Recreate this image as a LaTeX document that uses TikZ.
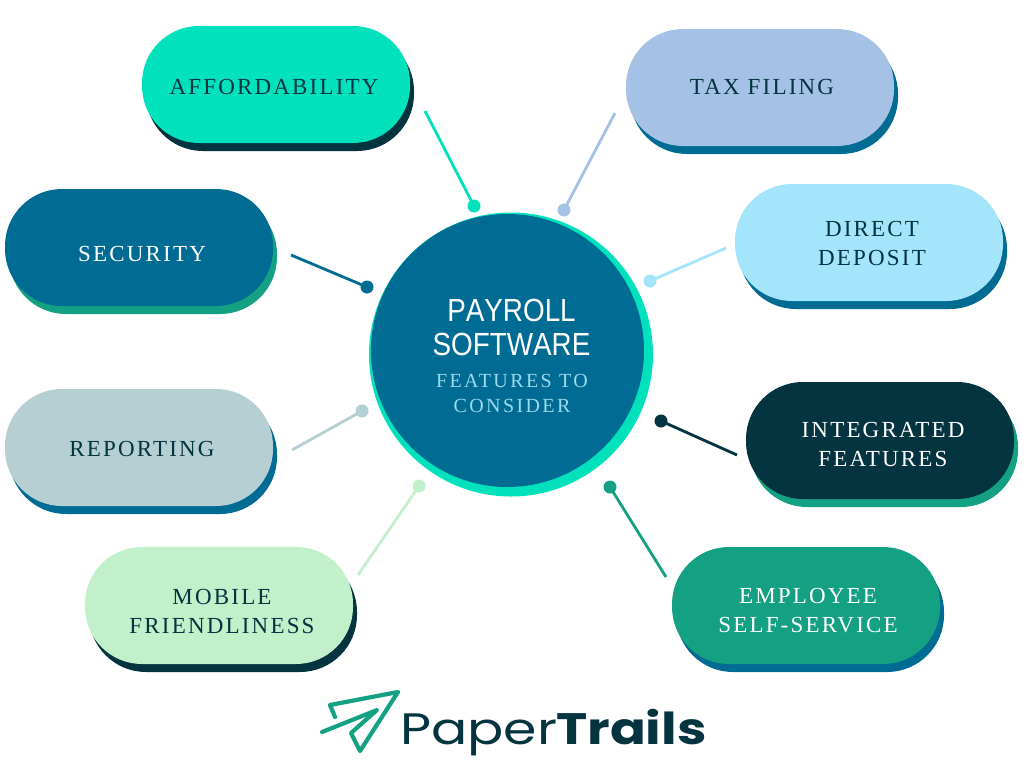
\documentclass[tikz,border=0pt]{standalone}
\usepackage{fontspec}
\setmainfont{Liberation Serif}
\newfontfamily\pillfont[LetterSpace=9.5]{Liberation Serif}
\newfontfamily\subfont[LetterSpace=12]{Liberation Serif}
\newfontfamily\titlefont[FakeStretch=0.87,Kerning=Off]{Liberation Sans}
\newfontfamily\logofont[FakeStretch=1.22]{Poppins}
\newfontfamily\logoboldfont[FakeStretch=1.2]{Poppins}
\definecolor{cAccent}{HTML}{00E1BC}
\definecolor{cNavy}{HTML}{006C93}
\definecolor{cDark}{HTML}{03343F}
\definecolor{cTax}{HTML}{A5C1E5}
\definecolor{cDirect}{HTML}{A5E5FB}
\definecolor{cReport}{HTML}{B6CFD3}
\definecolor{cMobile}{HTML}{C1F0CB}
\definecolor{cEmployee}{HTML}{14A082}
\definecolor{cSub}{HTML}{9AD9EE}
\tikzset{
  pillbox/.style={inner sep=0pt,outer sep=0pt,minimum width=268pt,minimum height=117pt,rounded corners=57pt},
  pilltext/.style={inner sep=0pt,align=center,font=\pillfont\fontsize{23}{29}\selectfont},
  link/.style={line width=2.8pt},
  dot/.style={circle,inner sep=0pt,outer sep=0pt,minimum size=13pt},
  titletext/.style={inner sep=0pt,anchor=base,font=\titlefont\fontsize{32}{34}\selectfont,text=white},
  subtext/.style={inner sep=0pt,anchor=base,font=\subfont\fontsize{20}{25}\selectfont,text=cSub},
  logotext/.style={inner sep=0pt,anchor=base west,text=cDark},
}
% name, centre x, centre y, fill, shadow, text colour, text x, text y, text
\newcommand{\pillitem}[9]{%
  \node[pillbox,fill=#5] (#1s) at (#2+4,#3+8) {};
  \node[pillbox,fill=#4] (#1) at (#2,#3) {};
  \node[pilltext,text=#6] (#1t) at (#7,#8) {#9};
}
% name, start x, y, dot x, y, colour
\newcommand{\linkitem}[6]{%
  \coordinate (#1a) at (#2,#3);
  \node[dot,fill=#6] (#1d) at (#4,#5) {};
  \draw[link,draw=#6] (#1a) -- (#1d.center);
}
\begin{document}
\begin{tikzpicture}[x=1pt,y=-1pt]
\useasboundingbox (0,0) rectangle (1024,768);
\fill[white] (0,0) rectangle (1024,768);
\pillitem{afford}{276}{84.5}{cAccent}{cDark}{cDark}{274}{87}{AFFORDABILITY}
\pillitem{tax}{760}{87.5}{cTax}{cNavy}{cDark}{762}{87}{TAX FILING}
\pillitem{sec}{139}{247.5}{cNavy}{cEmployee}{white}{142}{254}{SECURITY}
\pillitem{direct}{869}{242.5}{cDirect}{cNavy}{cDark}{872}{243}{DIRECT\\DEPOSIT}
\pillitem{report}{139}{447.5}{cReport}{cNavy}{cDark}{142}{449}{REPORTING}
\pillitem{integ}{880}{440.5}{cDark}{cEmployee}{white}{883}{444}{INTEGRATED\\FEATURES}
\pillitem{mobile}{219}{605.5}{cMobile}{cDark}{cDark}{222}{611}{MOBILE\\FRIENDLINESS}
\pillitem{employee}{806}{605.5}{cEmployee}{cNavy}{white}{808}{611}{EMPLOYEE\\SELF-SERVICE}
\linkitem{l1}{425}{111}{474}{206}{cAccent}
\linkitem{l2}{615}{113}{564}{210}{cTax}
\linkitem{l3}{291}{255}{367}{287}{cNavy}
\linkitem{l4}{726}{248}{650}{281}{cDirect}
\linkitem{l5}{292}{450}{362}{411}{cReport}
\linkitem{l6}{737}{455}{661}{421}{cDark}
\linkitem{l7}{358}{575}{419}{486}{cMobile}
\linkitem{l8}{666}{577}{610}{487}{cEmployee}
\node[circle,inner sep=0pt,minimum size=284pt,fill=cAccent] (ring) at (511,354.5) {};
\node[circle,inner sep=0pt,minimum size=273pt,fill=cNavy] (hub) at (507.5,350.5) {};
\node[titletext] (t1) at (511.5,321) {PAYROLL};
\node[titletext] (t2) at (511.5,355) {SOFTWARE};
\node[subtext] (t3) at (512,387) {FEATURES TO};
\node[subtext] (t4) at (512,412) {CONSIDER};
% logo
\draw[cEmployee,line width=4.2pt,line join=round,line cap=round]
  (335,717) -- (330,705) -- (398,692) -- (360,751) -- (351,733) -- (377,710) -- (322,732);
\node[logotext,font=\logofont\fontsize{44}{44}\selectfont] (logo1) at (400,744) {Paper};
\node[logotext,font=\logoboldfont\bfseries\fontsize{44}{44}\selectfont] (logo2) at (556,744) {Trails};
\end{tikzpicture}
\end{document}
